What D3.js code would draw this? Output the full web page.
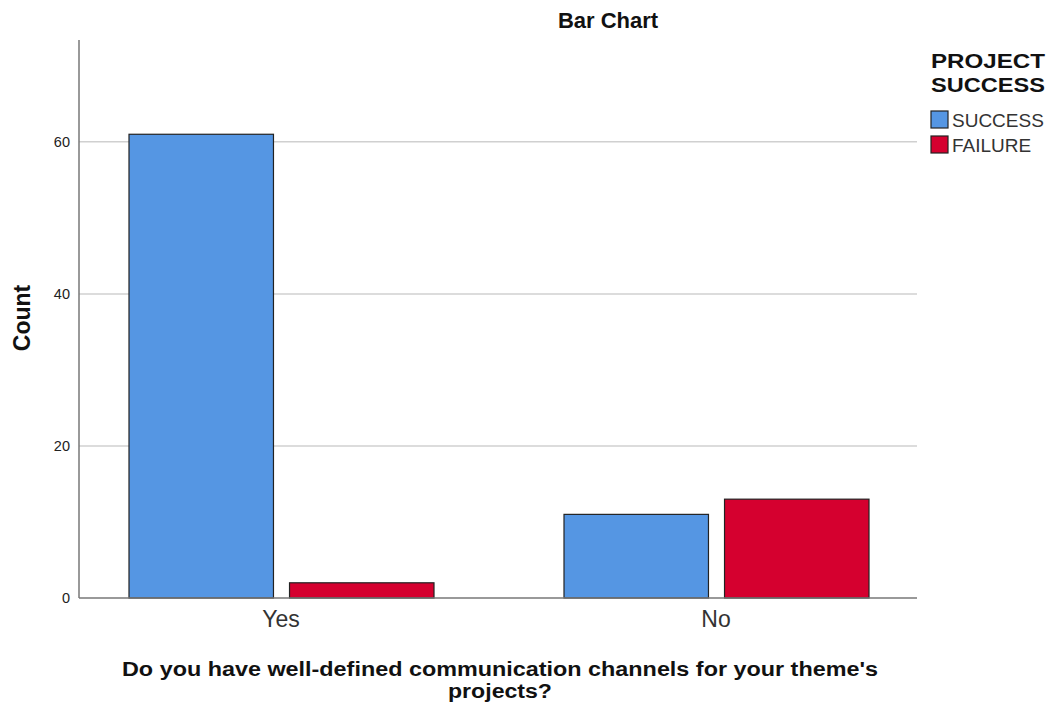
<!DOCTYPE html>
<html><head><meta charset="utf-8">
<script src="https://cdn.jsdelivr.net/npm/d3@7"></script>
<style>body{margin:0;background:#fff;}svg{display:block;font-family:Arial,"Liberation Sans",sans-serif;}</style>
</head><body>
<svg id="c" width="1052" height="706"></svg>
<script>
const categories = ["Yes", "No"];
const series = ["SUCCESS", "FAILURE"];
const successValues = [61, 11];
const failureValues = [2, 13];
const yTicks = [0, 20, 40, 60];
const colors = ["#5596e3", "#d5002f"];

const svg = d3.select("#c");
const plot = {left: 79, right: 917, top: 40, bottom: 598};
const y = d3.scaleLinear().domain([0, 73.4]).range([plot.bottom, plot.top]);
const x0 = d3.scaleBand().domain(categories).range([63.5, 933.5]);
const x1 = d3.scaleBand().domain(series).range([65.5, 370.5]).paddingInner(0.1);
const color = d3.scaleOrdinal().domain(series).range(colors);

// gridlines
svg.append("g").selectAll("line").data(yTicks.filter(d => d > 0)).join("line")
  .attr("x1", plot.left).attr("x2", plot.right)
  .attr("y1", d => y(d)).attr("y2", d => y(d))
  .attr("stroke", "#d0d0d0").attr("stroke-width", 1.5);

// y axis
const yAxis = svg.append("g").attr("transform", `translate(${plot.left},0)`)
  .call(d3.axisLeft(y).tickValues(yTicks).tickSize(0).tickPadding(9));
yAxis.select(".domain").remove();
yAxis.selectAll("text").attr("font-size", 14.5).attr("fill", "#222").attr("font-family", "Arial, 'Liberation Sans', sans-serif");
svg.append("line").attr("x1", plot.left).attr("x2", plot.left).attr("y1", plot.top).attr("y2", plot.bottom)
  .attr("stroke", "#777").attr("stroke-width", 1.5);

// bars
const data = categories.map((c, i) => ({cat: c, vals: [
  {s: series[0], v: successValues[i]}, {s: series[1], v: failureValues[i]}]}));
const groups = svg.append("g").selectAll("g").data(data).join("g")
  .attr("transform", d => `translate(${x0(d.cat)},0)`);
groups.selectAll("rect").data(d => d.vals).join("rect")
  .attr("x", d => x1(d.s)).attr("width", x1.bandwidth())
  .attr("y", d => y(d.v)).attr("height", d => y(0) - y(d.v))
  .attr("fill", d => color(d.s)).attr("stroke", "#222").attr("stroke-width", 1.2);

// x axis
const xAxis = svg.append("g").attr("transform", `translate(0,${plot.bottom})`)
  .call(d3.axisBottom(x0).tickSize(0).tickPadding(13));
xAxis.select(".domain").remove();
xAxis.selectAll("text").attr("font-size", 23).attr("fill", "#333").attr("font-family", "Arial, 'Liberation Sans', sans-serif");
svg.append("line").attr("x1", plot.left).attr("x2", plot.right).attr("y1", plot.bottom).attr("y2", plot.bottom)
  .attr("stroke", "#777").attr("stroke-width", 1.5);

// title
svg.append("text").attr("x", 608).attr("y", 28).attr("text-anchor", "middle")
  .attr("font-size", 22).attr("font-weight", "bold").attr("fill", "#111").text("Bar Chart");

// y label
svg.append("text").attr("transform", "translate(30,318) rotate(-90)").attr("text-anchor", "middle")
  .attr("font-size", 23).attr("font-weight", "bold").attr("fill", "#111").text("Count");

// x label
svg.append("text").attr("x", 500).attr("y", 676).attr("text-anchor", "middle")
  .attr("font-size", 19.5).attr("font-weight", "bold").attr("fill", "#111")
  .attr("textLength", 756).attr("lengthAdjust", "spacingAndGlyphs")
  .text("Do you have well-defined communication channels for your theme's");
svg.append("text").attr("x", 500).attr("y", 698).attr("text-anchor", "middle")
  .attr("font-size", 19.5).attr("font-weight", "bold").attr("fill", "#111")
  .attr("textLength", 104).attr("lengthAdjust", "spacingAndGlyphs")
  .text("projects?");

// legend
svg.append("text").attr("x", 1045).attr("y", 68).attr("text-anchor", "end")
  .attr("font-size", 20).attr("font-weight", "bold").attr("fill", "#111")
  .attr("textLength", 114).attr("lengthAdjust", "spacingAndGlyphs").text("PROJECT");
svg.append("text").attr("x", 1045).attr("y", 91.5).attr("text-anchor", "end")
  .attr("font-size", 20).attr("font-weight", "bold").attr("fill", "#111")
  .attr("textLength", 114).attr("lengthAdjust", "spacingAndGlyphs").text("SUCCESS");
const leg = svg.append("g").selectAll("g").data(series).join("g")
  .attr("transform", (d, i) => `translate(931,${111 + i * 25})`);
leg.append("rect").attr("width", 17).attr("height", 17)
  .attr("fill", d => color(d)).attr("stroke", "#222").attr("stroke-width", 1.2);
leg.append("text").attr("x", 21).attr("y", 16).attr("font-size", 19).attr("fill", "#333").text(d => d);
</script>
</body></html>
